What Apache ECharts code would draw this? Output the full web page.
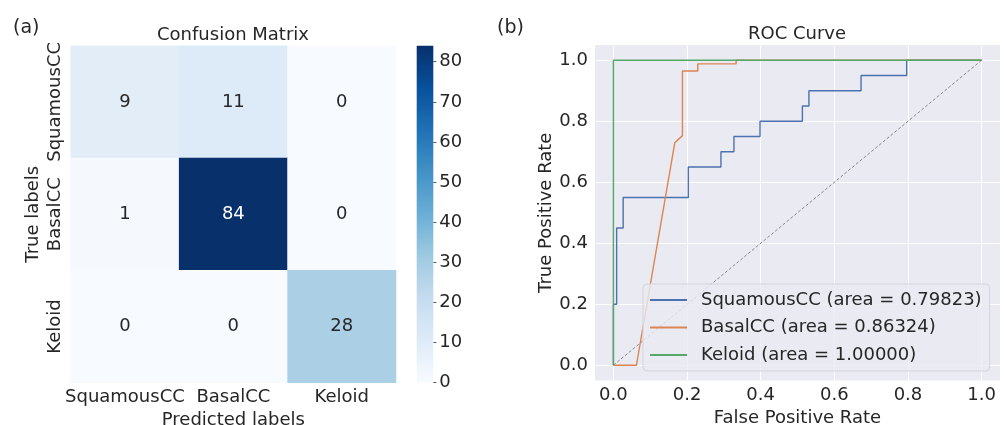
<!DOCTYPE html>
<html>
  <head>
    <meta charset="UTF-8" />
    <title></title>
    <style type="text/css">
      * {
        margin: 0;
        padding: 0;
      }
      #main {
        width: 1004px;
        height: 425px;
        background-color: #fff;
      }
    </style>
  </head>
  <body>
    <div id="main"></div>
  </body>
  <script src="https://cdn.jsdelivr.net/npm/echarts@6/dist/echarts.min.js"></script>
  <script type="text/javascript">
    // confusion matrix (rows = true, cols = predicted)
    var labels = ['SquamousCC', 'BasalCC', 'Keloid']
    var matrix = [
      [9, 11, 0],
      [1, 84, 0],
      [0, 0, 28]
    ]
    var colorbarMax = 84
    var colorbarTicks = [0, 10, 20, 30, 40, 50, 60, 70, 80]

    // ROC curves
    var squamousFpr = [0, 0, 0.0088, 0.0088, 0.0265, 0.0265, 0.2035, 0.2035, 0.292, 0.292, 0.3274, 0.3274, 0.3982, 0.3982, 0.5133, 0.5133, 0.531, 0.531, 0.6726, 0.6726, 0.7965, 0.7965, 1]
    var squamousTpr = [0, 0.2, 0.2, 0.45, 0.45, 0.55, 0.55, 0.65, 0.65, 0.7, 0.7, 0.75, 0.75, 0.8, 0.8, 0.85, 0.85, 0.9, 0.9, 0.95, 0.95, 1, 1]
    var basalFpr = [0, 0.0625, 0.1667, 0.1875, 0.1875, 0.2292, 0.2292, 0.3333, 0.3333, 1]
    var basalTpr = [0, 0, 0.7294, 0.7529, 0.9647, 0.9647, 0.9882, 0.9882, 1, 1]
    var keloidFpr = [0, 0, 1]
    var keloidTpr = [0, 1, 1]
    var rocNames = ['SquamousCC (area = 0.79823)', 'BasalCC (area = 0.86324)', 'Keloid (area = 1.00000)']
    var rocTicks = [0, 0.2, 0.4, 0.6, 0.8, 1.0]

    var blues = ['#f7fbff', '#deebf7', '#c6dbef', '#9ecae1', '#6baed6', '#4292c6', '#2171b5', '#08519c', '#08306b']
    var txt = '#262626'
    var font = 'DejaVu Sans'

    function pairs(xs, ys) {
      return xs.map((x, i) => [x, ys[i]])
    }

    var heatData = []
    matrix.forEach((row, r) => {
      row.forEach((v, c) => {
        heatData.push({
          value: [c, r, v],
          label: { color: v > 45 ? '#fff' : txt }
        })
      })
    })

    // colorbar gradient, top = max
    var barStops = blues.map((c, i) => ({ offset: 1 - i / (blues.length - 1), color: c }))
    barStops.reverse()

    var rocLine = { type: 'line', xAxisIndex: 2, yAxisIndex: 2, symbol: 'none', silent: true, animation: false }

    var myCharts = echarts.init(document.getElementById('main'))
    var option = {
      animation: false,
      textStyle: { fontFamily: font, color: txt },
      title: [
        { text: '(a)', left: 13, top: 19, padding: 0, textStyle: { fontSize: 19, fontWeight: 'normal', color: txt, fontFamily: font } },
        { text: 'Confusion Matrix', left: 233, top: 26, padding: 0, textAlign: 'center', textStyle: { fontSize: 18, fontWeight: 'normal', color: txt, fontFamily: font } },
        { text: '(b)', left: 497, top: 19, padding: 0, textStyle: { fontSize: 19, fontWeight: 'normal', color: txt, fontFamily: font } },
        { text: 'ROC Curve', left: 797, top: 25, padding: 0, textAlign: 'center', textStyle: { fontSize: 18, fontWeight: 'normal', color: txt, fontFamily: font } }
      ],
      grid: [
        { left: 70.7, top: 45.7, width: 325.3, height: 337, outerBoundsMode: 'none' },
        { left: 416.7, top: 45.7, width: 16.6, height: 337, outerBoundsMode: 'none' },
        { left: 595, top: 45, width: 405, height: 335.5, backgroundColor: '#eaeaf2', show: true, borderWidth: 0, outerBoundsMode: 'none' }
      ],
      xAxis: [
        {
          type: 'category', gridIndex: 0, data: labels,
          name: 'Predicted labels', nameLocation: 'middle', nameGap: 26,
          nameTextStyle: { fontSize: 18, color: txt },
          axisLine: { show: false }, axisTick: { show: false },
          axisLabel: { fontSize: 18, color: txt, margin: 6, interval: 0, hideOverlap: false }
        },
        { type: 'category', gridIndex: 1, show: false, data: [''] },
        {
          type: 'value', gridIndex: 2, min: -0.05, max: 1.05,
          name: 'False Positive Rate', nameLocation: 'middle', nameGap: 25,
          nameTextStyle: { fontSize: 18, color: txt },
          axisLine: { show: false },
          axisTick: { show: false, customValues: rocTicks },
          axisLabel: { fontSize: 18, color: txt, margin: 6, customValues: rocTicks, formatter: v => v.toFixed(1) },
          splitLine: { show: true, lineStyle: { color: '#fff', width: 1 } }
        }
      ],
      yAxis: [
        {
          type: 'category', gridIndex: 0, data: labels, inverse: true,
          name: 'True labels', nameLocation: 'middle', nameGap: 28,
          nameTextStyle: { fontSize: 18, color: txt },
          axisLine: { show: false }, axisTick: { show: false },
          axisLabel: { fontSize: 18, color: txt, margin: 6, rotate: 90, interval: 0, hideOverlap: false }
        },
        {
          type: 'value', gridIndex: 1, position: 'right', min: 0, max: colorbarMax,
          axisLine: { show: false },
          axisTick: { show: true, length: 3, customValues: colorbarTicks, lineStyle: { color: '#555', width: 1 } },
          axisLabel: { fontSize: 18, color: txt, margin: 6, customValues: colorbarTicks },
          splitLine: { show: false }
        },
        {
          type: 'value', gridIndex: 2, min: -0.05, max: 1.05,
          name: 'True Positive Rate', nameLocation: 'middle', nameGap: 39,
          nameTextStyle: { fontSize: 18, color: txt },
          axisLine: { show: false },
          axisTick: { show: false, customValues: rocTicks },
          axisLabel: { fontSize: 18, color: txt, margin: 7, customValues: rocTicks, formatter: v => v.toFixed(1) },
          splitLine: { show: true, lineStyle: { color: '#fff', width: 1 } }
        }
      ],
      visualMap: [
        {
          type: 'continuous', show: false, seriesIndex: 0, min: 0, max: colorbarMax, dimension: 2,
          inRange: { color: blues }
        }
      ],
      legend: {
        data: rocNames,
        orient: 'vertical',
        left: 643,
        top: 284,
        padding: [6, 8, 6, 7],
        itemGap: 7.5,
        itemWidth: 37,
        itemHeight: 2,
        icon: 'rect',
        backgroundColor: 'rgba(234,234,242,0.8)',
        borderColor: '#d4d4dc',
        borderWidth: 1,
        borderRadius: 4,
        selectedMode: false,
        textStyle: { fontSize: 18, color: txt, fontFamily: font, padding: [0, 0, 0, 9], lineHeight: 20 }
      },
      series: [
        {
          type: 'heatmap', xAxisIndex: 0, yAxisIndex: 0, data: heatData, silent: true,
          label: { show: true, fontSize: 18, fontFamily: font },
          itemStyle: { borderWidth: 0 }
        },
        {
          type: 'bar', xAxisIndex: 1, yAxisIndex: 1, data: [colorbarMax], barWidth: '100%', silent: true,
          itemStyle: { color: new echarts.graphic.LinearGradient(0, 0, 0, 1, barStops) }
        },
        Object.assign({}, rocLine, {
          name: 'diag', data: [[0, 0], [1, 1]],
          lineStyle: { color: '#888', width: 1, type: [3, 2] }
        }),
        Object.assign({}, rocLine, {
          name: rocNames[0], data: pairs(squamousFpr, squamousTpr),
          itemStyle: { color: '#4c72b0' }, lineStyle: { color: '#4c72b0', width: 1.4 }
        }),
        Object.assign({}, rocLine, {
          name: rocNames[1], data: pairs(basalFpr, basalTpr),
          itemStyle: { color: '#dd8452' }, lineStyle: { color: '#dd8452', width: 1.4 }
        }),
        Object.assign({}, rocLine, {
          name: rocNames[2], data: pairs(keloidFpr, keloidTpr),
          itemStyle: { color: '#55a868' }, lineStyle: { color: '#55a868', width: 1.4 }
        })
      ]
    }
    myCharts.setOption(option)
  </script>
</html>
